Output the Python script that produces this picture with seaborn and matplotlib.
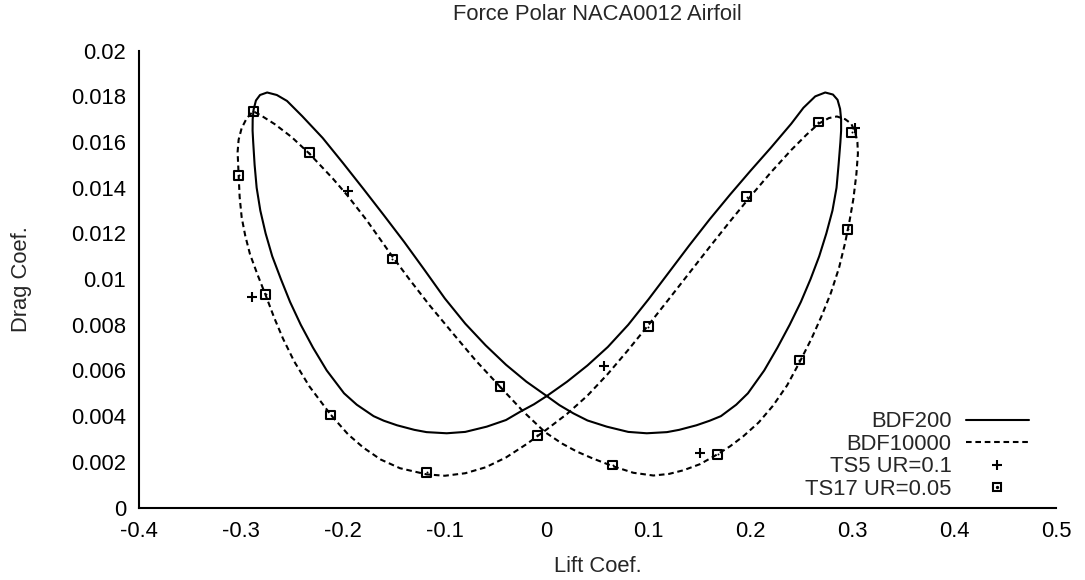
import matplotlib
matplotlib.use("Agg")
import matplotlib.pyplot as plt
import seaborn as sns
from matplotlib.lines import Line2D
from matplotlib.legend_handler import HandlerTuple

# ---- data ----
bdf200_cl = [0.0, 0.02, 0.04, 0.06, 0.08, 0.10, 0.12, 0.14, 0.16, 0.18, 0.20, 0.22, 0.24, 0.252,
             0.2636, 0.2734, 0.2810, 0.2855, 0.2880, 0.2890, 0.2890, 0.2883, 0.2865, 0.2845, 0.2805,
             0.2745, 0.2675, 0.2590, 0.2495, 0.2385, 0.2265, 0.2135, 0.1975, 0.1860, 0.1710, 0.1600,
             0.1470, 0.1300, 0.1180, 0.0982, 0.08, 0.0589, 0.04, 0.0262, 0.0125, 0.0,
             -0.02, -0.04, -0.06, -0.08, -0.10, -0.12, -0.14, -0.16, -0.18, -0.20, -0.22, -0.24,
             -0.255, -0.265, -0.2745, -0.2815, -0.2855, -0.2878, -0.2887, -0.2888, -0.2882, -0.2868,
             -0.2848, -0.2812, -0.2760, -0.2695, -0.2610, -0.2520, -0.2415, -0.2295, -0.2160,
             -0.1990, -0.1865, -0.1700, -0.1600, -0.1470, -0.1300, -0.1180, -0.0982, -0.08,
             -0.0589, -0.04, -0.0262, -0.0125, 0.0]
bdf200_cd = [0.00488, 0.00551, 0.00622, 0.00703, 0.00800, 0.00912, 0.01030, 0.01148, 0.01262, 0.01370,
             0.01474, 0.01575, 0.01680, 0.01750, 0.01800, 0.01817, 0.01808, 0.01785, 0.01745, 0.01700,
             0.01650, 0.01600, 0.01500, 0.01400, 0.01300, 0.01200, 0.01100, 0.01000, 0.00900, 0.00800,
             0.00700, 0.00600, 0.00500, 0.00450, 0.00400, 0.00380, 0.00360, 0.00340, 0.00330, 0.00325,
             0.00331, 0.00354, 0.00381, 0.00412, 0.00448, 0.00488,
             0.00551, 0.00625, 0.00710, 0.00805, 0.00915, 0.01040, 0.01163, 0.01280, 0.01395, 0.01508,
             0.01618, 0.01713, 0.01780, 0.01806, 0.01817, 0.01806, 0.01782, 0.01742, 0.01700, 0.01650,
             0.01600, 0.01500, 0.01400, 0.01300, 0.01200, 0.01100, 0.01000, 0.00900, 0.00800, 0.00700,
             0.00600, 0.00500, 0.00450, 0.00400, 0.00380, 0.00360, 0.00340, 0.00330, 0.00325, 0.00331,
             0.00354, 0.00383, 0.00419, 0.00452, 0.00488]

bdf10000_cl = [-0.0459, -0.0230, -0.0017, 0.0150, 0.0295, 0.0450, 0.0648, 0.0850, 0.1047, 0.1200,
               0.1342, 0.1506, 0.1680, 0.1800, 0.1930, 0.2080, 0.2220, 0.2360, 0.2481, 0.2600,
               0.2700, 0.2790, 0.2870, 0.2930, 0.2975, 0.3010, 0.3040, 0.3055, 0.3050, 0.3030,
               0.2990, 0.2930, 0.2849, 0.2770, 0.2668, 0.2550, 0.2400, 0.2200, 0.2000, 0.1800,
               0.1600, 0.1400, 0.1200, 0.1000, 0.0800, 0.0600, 0.0400, 0.0200, 0.0000, -0.0200,
               -0.0400, -0.0600, -0.0800, -0.1000, -0.1179, -0.1441, -0.1630, -0.1800, -0.1950,
               -0.2119, -0.2330, -0.2480, -0.2590, -0.2675, -0.2760, -0.2840, -0.2914, -0.2960,
               -0.2995, -0.3015, -0.3025, -0.3035, -0.3025, -0.2996, -0.2947, -0.2882, -0.2800,
               -0.2669, -0.2505, -0.2332, -0.2100, -0.1955, -0.1768, -0.1517, -0.1350, -0.1150,
               -0.0917, -0.0700, -0.0459]
bdf10000_cd = [0.00529, 0.00420, 0.00330, 0.00280, 0.00245, 0.00215, 0.00181, 0.00152, 0.00140, 0.00147,
               0.00163, 0.00190, 0.00234, 0.00268, 0.00312, 0.00372, 0.00445, 0.00535, 0.00635, 0.00740,
               0.00840, 0.00940, 0.01050, 0.01160, 0.01260, 0.01350, 0.01460, 0.01550, 0.01600, 0.01640,
               0.01680, 0.01700, 0.01712, 0.01705, 0.01680, 0.01632, 0.01565, 0.01467, 0.01362, 0.01253,
               0.01141, 0.01027, 0.00913, 0.00800, 0.00690, 0.00585, 0.00490, 0.00410, 0.00342, 0.00277,
               0.00219, 0.00176, 0.00150, 0.00139, 0.00145, 0.00172, 0.00210, 0.00262, 0.00320,
               0.00405, 0.00530, 0.00640, 0.00740, 0.00830, 0.00930, 0.01020, 0.01110, 0.01190,
               0.01270, 0.01360, 0.01455, 0.01557, 0.01610, 0.01660, 0.01703, 0.01735, 0.01715,
               0.01678, 0.01622, 0.01550, 0.01440, 0.01365, 0.01258, 0.01100, 0.01000, 0.00885,
               0.00760, 0.00645, 0.00529]

ts5_cl = [-0.1955, -0.2892, 0.0563, 0.1506, 0.3029]
ts5_cd = [0.01385, 0.00920, 0.00619, 0.00240, 0.01662]

ts17_cl = [-0.2882, -0.2332, -0.1517, -0.0459, -0.0092, 0.0648, 0.1680, 0.2481, 0.2953,
           0.2996, 0.2668, 0.1965, 0.0998, -0.1179, -0.2119, -0.2760, -0.3023]
ts17_cd = [0.01735, 0.01553, 0.01088, 0.00529, 0.00317, 0.00186, 0.00234, 0.00646, 0.01219,
           0.01642, 0.01688, 0.01360, 0.00791, 0.00155, 0.00405, 0.00933, 0.01455]

series_labels = ["BDF200", "BDF10000", "TS5 UR=0.1", "TS17 UR=0.05"]
x_ticks = [-0.4, -0.3, -0.2, -0.1, 0.0, 0.1, 0.2, 0.3, 0.4, 0.5]
x_tick_labels = ["-0.4", "-0.3", "-0.2", "-0.1", "0", "0.1", "0.2", "0.3", "0.4", "0.5"]
y_ticks = [0.0, 0.002, 0.004, 0.006, 0.008, 0.010, 0.012, 0.014, 0.016, 0.018, 0.020]
y_tick_labels = ["0", "0.002", "0.004", "0.006", "0.008", "0.01", "0.012", "0.014", "0.016", "0.018", "0.02"]
title_text = "Force Polar NACA0012 Airfoil"
x_label = "Lift Coef."
y_label = "Drag Coef."

# ---- style ----
sns.set_style("white")
plt.rcParams["font.family"] = ["Liberation Sans", "DejaVu Sans"]
FS = 15.8
LW = 1.5
DASH = (0, (2.7, 1.8))

fig = plt.figure(figsize=(10.85, 5.8), dpi=100)
ax = fig.add_axes([0.1284, 0.125, 0.8449, 0.7876])

sns.lineplot(x=bdf200_cl, y=bdf200_cd, sort=False, estimator=None, color="black",
             linewidth=LW, ax=ax)
sns.lineplot(x=bdf10000_cl, y=bdf10000_cd, sort=False, estimator=None, color="black",
             linewidth=LW, linestyle=DASH, ax=ax)
for ln in ax.get_lines():
    ln.set_solid_joinstyle("round")
    ln.set_dash_joinstyle("round")
sns.scatterplot(x=ts5_cl, y=ts5_cd, marker="+", s=45, color="black", linewidth=1.5, ax=ax, zorder=4)
sns.scatterplot(x=ts17_cl, y=ts17_cd, marker="s", s=41, facecolor="none", edgecolor="black",
                linewidth=1.5, ax=ax, zorder=4)
sns.scatterplot(x=ts17_cl, y=ts17_cd, marker="o", s=2, color="black", linewidth=0, ax=ax, zorder=5)

ax.set_xlim(-0.4, 0.5)
ax.set_ylim(0.0, 0.02)
ax.set_xticks(x_ticks)
ax.set_xticklabels(x_tick_labels)
ax.set_yticks(y_ticks)
ax.set_yticklabels(y_tick_labels)
ax.tick_params(direction="in", length=7, width=1.2, labelsize=FS, colors="black")
ax.tick_params(axis="y", pad=9.6)
ax.tick_params(axis="x", pad=10)
for s in ["top", "right"]:
    ax.spines[s].set_visible(False)
for s in ["left", "bottom"]:
    ax.spines[s].set_color("black")
    ax.spines[s].set_linewidth(1.5)

ax.set_title(title_text, fontsize=FS, pad=22)
ax.set_xlabel(x_label, fontsize=FS, labelpad=10)
ax.set_ylabel(y_label, fontsize=FS, labelpad=28)

h1 = Line2D([], [], color="black", lw=LW)
h2 = Line2D([], [], color="black", lw=LW, linestyle=DASH)
h3 = Line2D([], [], color="black", marker="+", ls="none", ms=6.7, mew=1.5)
h4 = (Line2D([], [], marker="s", ms=6.4, mfc="none", mec="black", mew=1.5, ls="none"),
      Line2D([], [], marker="o", ms=1.4, color="black", ls="none"))
ax.legend([h1, h2, h3, h4], series_labels, loc="lower right", bbox_to_anchor=(0.9706, 0.0164),
          frameon=False, markerfirst=False, handlelength=2.885, handletextpad=0.64,
          labelspacing=0.07, borderpad=0, borderaxespad=0, fontsize=FS,
          handler_map={tuple: HandlerTuple(ndivide=1, pad=0)})

fig.savefig("out.png", dpi=100)
